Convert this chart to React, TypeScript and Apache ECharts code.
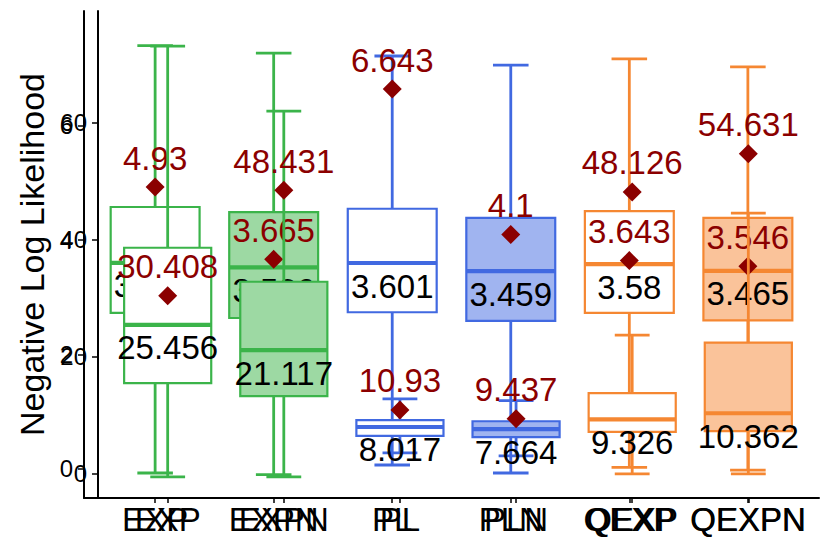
import React, { useEffect, useRef } from 'react';
import * as echarts from 'echarts';

const categories = ['EXP', 'EXPN', 'PL', 'PLN', 'QEXP', 'QEXPN'];
const strokeColors = ['#3BB44A', '#3BB44A', '#4169E1', '#4169E1', '#F58732', '#F58732'];
const fillColors = ['#FFFFFF', '#9DD9A3', '#FFFFFF', '#A0B4F0', '#FFFFFF', '#FAC39A'];
const meanColor = '#8B0000';

// Layer A (scale 0-8)
const aLower = [-0.07, -0.1, 0.07, -0.07, 0.03, -0.02];
const aQ1 = [2.73, 2.64, 2.74, 2.59, 2.73, 2.6];
const aMedian = [3.604, 3.526, 3.601, 3.459, 3.58, 3.465];
const aQ3 = [4.58, 4.49, 4.55, 4.39, 4.51, 4.39];
const aUpper = [7.4, 7.27, 7.22, 7.06, 7.17, 7.03];
const aMean = [4.93, 3.665, 6.643, 4.1, 3.643, 3.546];
const aTicks = [0, 2, 4, 6];

// Layer B (scale 0-80)
const bLower = [-0.5, -0.5, 3.6, 3.1, 0, 0];
const bQ1 = [15.5, 13.3, 6.5, 6.3, 7.2, 7.3];
const bMedian = [25.456, 21.117, 8.017, 7.664, 9.326, 10.362];
const bQ3 = [38.6, 32.8, 9.2, 9.0, 13.8, 22.4];
const bUpper = [73.0, 61.9, 12.8, 12.5, 23.7, 44.5];
const bMean = [30.408, 48.431, 10.93, 9.437, 48.126, 54.631];
const bTicks = [0, 20, 40, 60];

const catIdx = [0, 1, 2, 3, 4, 5];
const FONT = "'Liberation Sans', Arial, Helvetica, sans-serif";

function buildSeries(gi: number, lower: number[], q1: number[], med: number[], q3: number[], upper: number[], mean: number[], zBase: number) {
  const boxData = catIdx.map((i) => [i, lower[i], q1[i], med[i], q3[i], upper[i]]);
  const boxes = {
    type: 'custom',
    xAxisIndex: gi,
    yAxisIndex: gi,
    z: zBase,
    clip: false,
    encode: { x: 0, y: [1, 2, 3, 4, 5] },
    data: boxData,
    renderItem: (params: any, api: any) => {
      const i = api.value(0);
      const cx = api.coord([i, 0])[0];
      const yLo = api.coord([i, api.value(1)])[1];
      const yQ1 = api.coord([i, api.value(2)])[1];
      const yMed = api.coord([i, api.value(3)])[1];
      const yQ3 = api.coord([i, api.value(4)])[1];
      const yUp = api.coord([i, api.value(5)])[1];
      const bw = api.size([0.75, 0])[0];
      const cw = api.size([0.3, 0])[0];
      const stroke = strokeColors[i];
      const fill = fillColors[i];
      const ls = { stroke, lineWidth: 2.8 };
      return {
        type: 'group',
        children: [
          { type: 'line', shape: { x1: cx, y1: yQ3, x2: cx, y2: yUp }, style: ls },
          { type: 'line', shape: { x1: cx - cw / 2, y1: yUp, x2: cx + cw / 2, y2: yUp }, style: ls },
          { type: 'line', shape: { x1: cx, y1: yQ1, x2: cx, y2: yLo }, style: ls },
          { type: 'line', shape: { x1: cx - cw / 2, y1: yLo, x2: cx + cw / 2, y2: yLo }, style: ls },
          { type: 'rect', shape: { x: cx - bw / 2, y: yQ3, width: bw, height: yQ1 - yQ3 }, style: { fill, stroke, lineWidth: 2.2 } },
          { type: 'line', shape: { x1: cx - bw / 2, y1: yMed, x2: cx + bw / 2, y2: yMed }, style: { stroke, lineWidth: 4.2 } },
        ],
      };
    },
  };
  const means = {
    type: 'scatter',
    xAxisIndex: gi,
    yAxisIndex: gi,
    z: zBase + 1,
    symbol: 'diamond',
    symbolSize: 19,
    itemStyle: { color: meanColor, opacity: 1 },
    data: catIdx.map((i) => [i, mean[i]]),
  };
  const labels = {
    type: 'custom',
    xAxisIndex: gi,
    yAxisIndex: gi,
    z: zBase + 2,
    clip: false,
    encode: { x: 0, y: [1, 2] },
    data: catIdx.map((i) => [i, med[i], mean[i]]),
    renderItem: (params: any, api: any) => {
      const i = api.value(0);
      const pMed = api.coord([i, api.value(1)]);
      const pMean = api.coord([i, api.value(2)]);
      return {
        type: 'group',
        children: [
          {
            type: 'text',
            x: pMed[0],
            y: pMed[1] + 23,
            style: { text: String(med[i]), fill: '#000', fontSize: 33, fontFamily: FONT, align: 'center', verticalAlign: 'middle' },
          },
          {
            type: 'text',
            x: pMean[0],
            y: pMean[1] - 29,
            style: { text: String(mean[i]), fill: meanColor, fontSize: 33, fontFamily: FONT, align: 'center', verticalAlign: 'middle' },
          },
        ],
      };
    },
  };
  return [boxes, means, labels];
}

function xAxisFor(gi: number) {
  return {
    type: 'value',
    gridIndex: gi,
    min: -0.6,
    max: 5.6,
    axisLine: { show: true, onZero: false, lineStyle: { color: '#000', width: 2 } },
    axisTick: { show: true, customValues: catIdx, length: 5, lineStyle: { color: '#000', width: 1.5 } },
    axisLabel: {
      customValues: catIdx,
      formatter: (v: number) => categories[Math.round(v)] ?? '',
      fontSize: 33,
      color: '#000',
      fontFamily: FONT,
      margin: 5,
    },
    splitLine: { show: false },
  };
}

function yAxisFor(gi: number, min: number, max: number, ticks: number[], withName: boolean) {
  return {
    type: 'value',
    gridIndex: gi,
    min,
    max,
    name: withName ? 'Negative Log Likelihood' : '',
    nameLocation: 'middle',
    nameGap: 31,
    nameTextStyle: { fontSize: 34, color: '#000', fontFamily: FONT },
    axisLine: { show: true, onZero: false, lineStyle: { color: '#000', width: 2 } },
    axisTick: { show: true, customValues: ticks, length: 6, lineStyle: { color: '#000', width: 1.5 } },
    axisLabel: { customValues: ticks, fontSize: 24, color: '#000', fontFamily: FONT, margin: 11 },
    splitLine: { show: false },
  };
}

export default function App() {
  const ref = useRef<HTMLDivElement>(null);
  useEffect(() => {
    if (!ref.current) return;
    const chart = echarts.init(ref.current, undefined, { renderer: 'svg' });
    chart.setOption({
      animation: false,
      backgroundColor: '#FFFFFF',
      grid: [
        { left: 84, right: 11, top: 11, bottom: 56 },
        { left: 98, right: 12, top: 11, bottom: 56 },
      ],
      xAxis: [xAxisFor(0), xAxisFor(1)],
      yAxis: [yAxisFor(0, -0.507, 8.007, aTicks, true), yAxisFor(1, -4.1, 79.0, bTicks, false)],
      series: [
        ...buildSeries(0, aLower, aQ1, aMedian, aQ3, aUpper, aMean, 2),
        ...buildSeries(1, bLower, bQ1, bMedian, bQ3, bUpper, bMean, 10),
      ],
    });
    return () => chart.dispose();
  }, []);
  return <div ref={ref} style={{ position: 'fixed', left: 0, top: 0, width: 830, height: 554 }} />;
}
